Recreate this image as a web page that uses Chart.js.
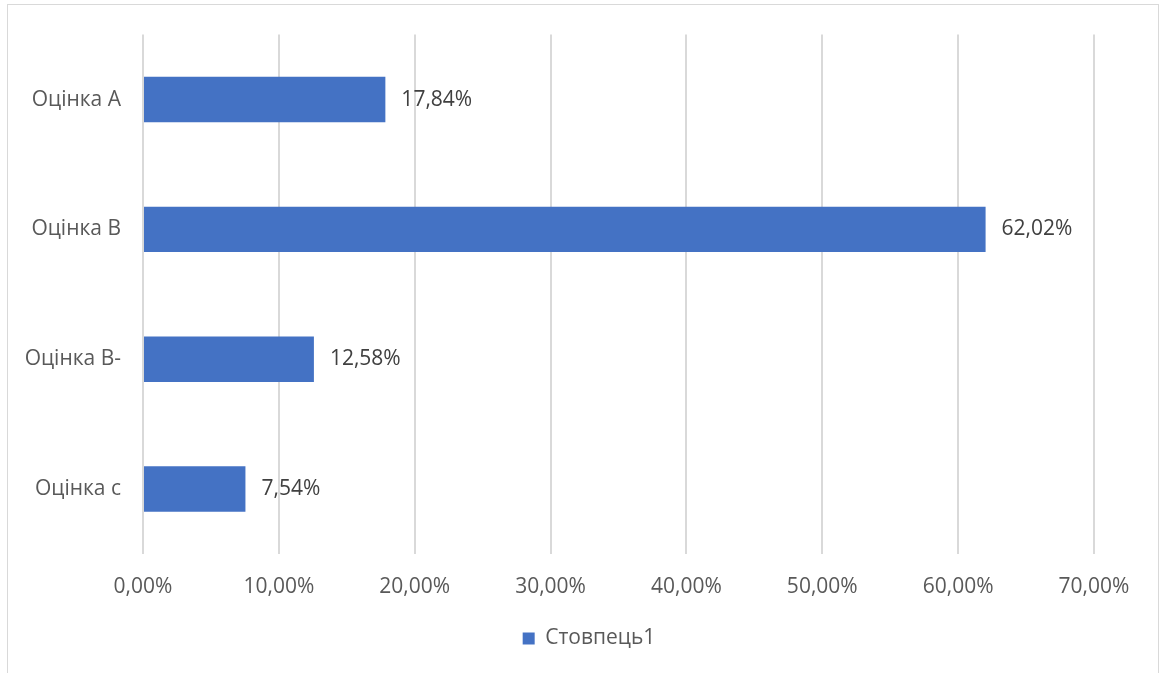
<!DOCTYPE html>
<html lang="uk">
<head>
<meta charset="utf-8">
<script src="https://cdn.jsdelivr.net/npm/chart.js@4"></script>
<style>
  html, body { margin: 0; padding: 0; background: #fff; }
  #wrap { position: relative; width: 1160px; height: 673px; }
  #frame { position: absolute; left: 7px; top: 4px; width: 1150px; height: 680px; border: 1px solid #d9d9d9; pointer-events: none; }
</style>
</head>
<body>
<div id="wrap">
  <canvas id="chart" width="1160" height="673"></canvas>
  <div id="frame"></div>
</div>
<script>
  const categories = ['Оцінка A', 'Оцінка B', 'Оцінка B-', 'Оцінка c'];
  const values = [17.84, 62.02, 12.58, 7.54];
  const seriesName = 'Стовпець1';
  const xTicks = { min: 0, max: 70, step: 10 };

  const FONT = '"Open Sans", sans-serif';
  const FS = 21;
  const fmt = (v, d) => v.toFixed(d).replace('.', ',') + '%';

  // value labels to the right of each bar
  const barLabels = {
    id: 'barLabels',
    afterDatasetsDraw(chart) {
      const { ctx } = chart;
      const meta = chart.getDatasetMeta(0);
      ctx.save();
      ctx.font = FS + 'px ' + FONT;
      ctx.fillStyle = '#404040';
      ctx.textAlign = 'left';
      ctx.textBaseline = 'middle';
      meta.data.forEach((bar, i) => {
        ctx.fillText(fmt(values[i], 2), bar.x + 16, bar.y);
      });
      ctx.restore();
    }
  };

  // legend sits centred on the whole canvas, not only the padded area
  const legendShift = {
    id: 'legendShift',
    beforeDraw(chart) {
      const lg = chart.legend;
      if (!lg || lg._shifted) return;
      lg.left += 42;
      lg.right += 42;
      lg._shifted = true;
    }
  };

  new Chart(document.getElementById('chart'), {
    type: 'bar',
    data: {
      labels: categories,
      datasets: [{
        label: seriesName,
        data: values,
        backgroundColor: '#4472C4',
        borderWidth: 0,
        barPercentage: 0.35,
        categoryPercentage: 1,
      }],
    },
    options: {
      indexAxis: 'y',
      responsive: false,
      animation: false,
      layout: { padding: { top: 34, right: 66, bottom: 14, left: 0 } },
      plugins: {
        legend: {
          position: 'bottom',
          labels: { color: '#595959', font: { family: FONT, size: FS }, boxWidth: 12, boxHeight: 12, padding: 10 },
        },
        tooltip: { enabled: false },
      },
      scales: {
        x: {
          min: xTicks.min,
          max: xTicks.max,
          ticks: { stepSize: xTicks.step, color: '#595959', font: { family: FONT, size: FS }, padding: 20, callback: v => fmt(v, 2) },
          grid: { color: '#d9d9d9', lineWidth: 2, drawTicks: false },
          border: { display: false },
          afterFit: s => { s.height = 64; },
        },
        y: {
          ticks: { color: '#595959', font: { family: FONT, size: FS }, padding: 22 },
          grid: { display: false, drawTicks: false },
          border: { display: false },
          afterFit: s => { s.width = 143; },
        },
      },
    },
    plugins: [barLabels, legendShift],
  });
</script>
</body>
</html>
